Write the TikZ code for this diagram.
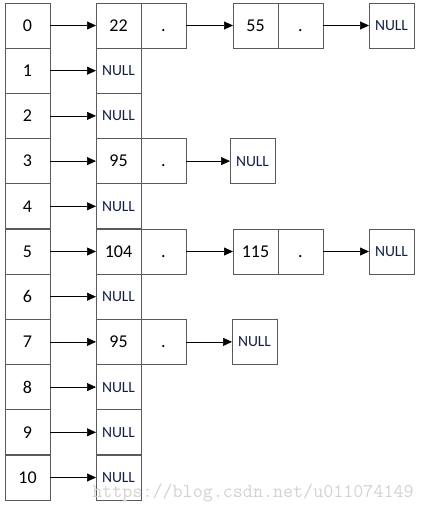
\documentclass[tikz,border=0pt]{standalone}
\usepackage{fontspec}
\setmainfont{Carlito}
\usetikzlibrary{positioning,arrows.meta}
\definecolor{boxgray}{RGB}{90,90,90}
\definecolor{nullblue}{RGB}{20,32,70}
\tikzset{
        slot/.style={draw=boxgray, line width=0.9pt, minimum width=45pt, minimum height=45pt, inner sep=0pt, outer sep=0pt, font=\fontsize{18}{20}\selectfont},
        ptrslot/.style={slot, execute at begin node=\vphantom{0}},
        nullslot/.style={slot, text=nullblue, font=\fontsize{15.5}{17}\selectfont},
        link/.style={-{Triangle[length=9pt,width=8pt]}, line width=0.7pt},
        watermark/.style={text=gray!35, inner sep=0pt, font=\ttfamily\fontsize{19.5}{19.5}\selectfont}
          }
\begin{document}
\begin{tikzpicture}[x=1pt, y=-1pt]
        \useasboundingbox (0,0) rectangle (423,509);
        \foreach \i in {0,...,10}
          \node[slot] (idx\i) at (27.5, 25.5+45.2*\i) {\i};
        \foreach \i in {1,2,4,6,8,9,10}
          \node[nullslot, right=46pt of idx\i] (head\i) {NULL};
        \node[slot, right=46pt of idx0] (head0) {22};
        \node[ptrslot, right=0pt of head0] (headptr0) {.};
        \node[slot, right=47pt of headptr0] (next0) {55};
        \node[ptrslot, right=0pt of next0] (nextptr0) {.};
        \node[nullslot, right=46pt of nextptr0] (end0) {NULL};
        \node[slot, right=46pt of idx3] (head3) {95};
        \node[ptrslot, right=0pt of head3] (headptr3) {.};
        \node[nullslot, right=44pt of headptr3] (end3) {NULL};
        \node[slot, right=46pt of idx5] (head5) {104};
        \node[ptrslot, right=0pt of head5] (headptr5) {.};
        \node[slot, right=47pt of headptr5] (next5) {115};
        \node[ptrslot, right=0pt of next5] (nextptr5) {.};
        \node[nullslot, right=46pt of nextptr5] (end5) {NULL};
        \node[slot, right=46pt of idx7] (head7) {95};
        \node[ptrslot, right=0pt of head7] (headptr7) {.};
        \node[nullslot, right=46pt of headptr7] (end7) {NULL};
        \foreach \i in {0,...,10}
          \draw[link] (idx\i) -- (head\i);
        \foreach \i in {0,5} {
          \draw[link] (headptr\i) -- (next\i);
          \draw[link] (nextptr\i) -- (end\i);
        }
        \foreach \i in {3,7}
          \draw[link] (headptr\i) -- (end\i);
        \node[watermark] (mark) at (253,493) {https://blog.csdn.net/u011074149};
\end{tikzpicture}
\end{document}
